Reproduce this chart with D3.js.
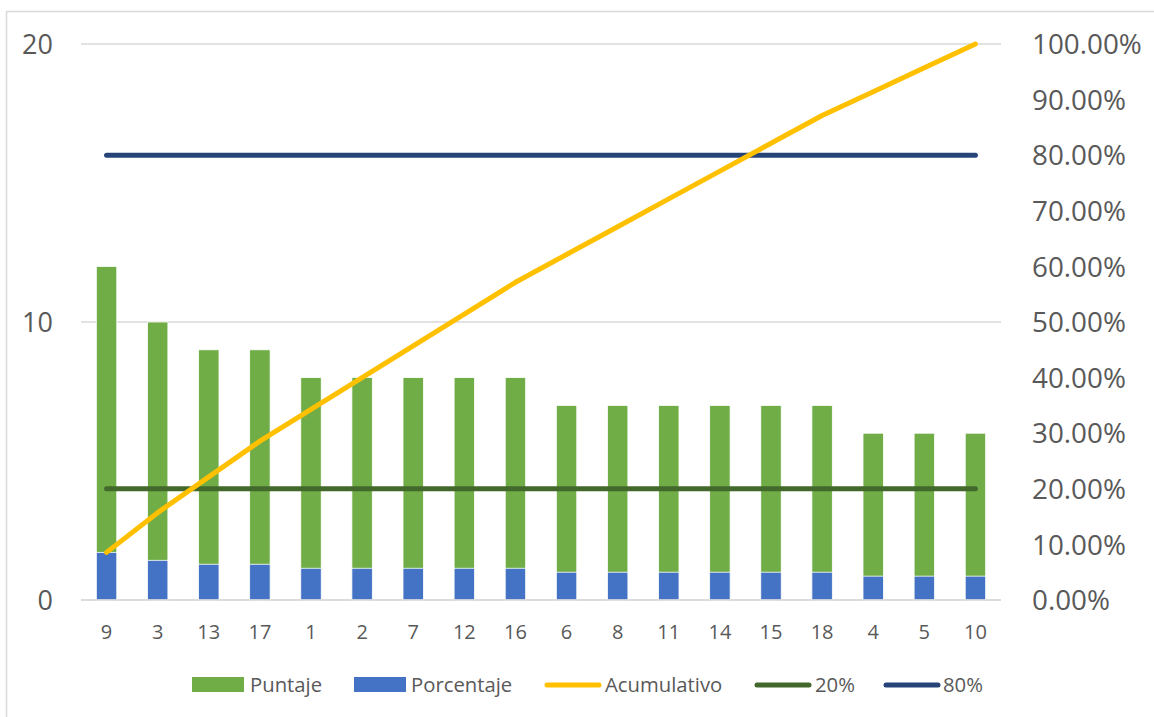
<!DOCTYPE html>
<html><head><meta charset="utf-8">
<script src="https://cdn.jsdelivr.net/npm/d3@7"></script>
<style>body{margin:0;background:#fff}svg{display:block}text{font-family:"Open Sans",sans-serif;fill:#595959}</style>
</head><body>
<svg id="c" width="1154" height="717"></svg>
<script>
const categories = ["9","3","13","17","1","2","7","12","16","6","8","11","14","15","18","4","5","10"];
const puntaje = [12,10,9,9,8,8,8,8,8,7,7,7,7,7,7,6,6,6];
const porcentaje = [0.0857,0.0714,0.0643,0.0643,0.0571,0.0571,0.0571,0.0571,0.0571,0.05,0.05,0.05,0.05,0.05,0.05,0.0429,0.0429,0.0429];
const acumulativo = [0.0857,0.1571,0.2214,0.2857,0.3429,0.4,0.4571,0.5143,0.5714,0.6214,0.6714,0.7214,0.7714,0.8214,0.8714,0.9143,0.9571,1.0];
const linea20 = categories.map(() => 0.2);
const linea80 = categories.map(() => 0.8);
const leftTicks = [0,10,20];
const rightTicks = [0,0.1,0.2,0.3,0.4,0.5,0.6,0.7,0.8,0.9,1.0];

const svg = d3.select("#c");
svg.append("rect").attr("x",6.5).attr("y",11.5).attr("width",1170).attr("height",730)
  .attr("fill","#fff").attr("stroke","#d9d9d9").attr("stroke-width",1.5);

const L=81, R=1001, T=44, B=600;
const x = d3.scaleBand().domain(categories).range([L,R]).paddingInner(0.6).paddingOuter(0.3);
const y = d3.scaleLinear().domain([0,20]).range([B,T]);
const y2 = d3.scaleLinear().domain([0,1]).range([B,T]);
const cx = c => x(c)+x.bandwidth()/2;

svg.append("g").selectAll("line").data(leftTicks).join("line")
  .attr("x1",L).attr("x2",R).attr("y1",d=>y(d)).attr("y2",d=>y(d))
  .attr("stroke","#d9d9d9").attr("stroke-width",1.5);

const ga = d3.axisLeft(y).tickValues(leftTicks).tickSize(0).tickPadding(0);
const gl = svg.append("g").attr("transform","translate(53,0)").call(ga);
gl.select(".domain").remove();
gl.selectAll("text").attr("font-size",27).attr("fill","#595959").attr("dy","0.35em").style("font-family","'Open Sans',sans-serif");

const ra = d3.axisRight(y2).tickValues(rightTicks).tickSize(0).tickPadding(0).tickFormat(d=>(d*100).toFixed(2)+"%");
const gr = svg.append("g").attr("transform","translate(1032,0)").call(ra);
gr.select(".domain").remove();
gr.selectAll("text").attr("font-size",27.8).attr("fill","#595959").attr("dy","0.35em").style("font-family","'Open Sans',sans-serif");

const bx = d3.axisBottom(x).tickSize(0).tickPadding(0);
const gb = svg.append("g").attr("transform",`translate(0,${B})`).call(bx);
gb.select(".domain").remove();
gb.selectAll("text").attr("font-size",20).attr("fill","#595959").attr("y",39).attr("dy",0).style("font-family","'Open Sans',sans-serif");

svg.append("g").selectAll("rect").data(puntaje).join("rect")
  .attr("x",(d,i)=>x(categories[i])).attr("width",x.bandwidth())
  .attr("y",d=>y(d)).attr("height",d=>B-y(d)).attr("fill","#70ad47")
  .attr("stroke","#fff").attr("stroke-width",0.8);
svg.append("g").selectAll("rect").data(porcentaje).join("rect")
  .attr("x",(d,i)=>x(categories[i])).attr("width",x.bandwidth())
  .attr("y",d=>y2(d)).attr("height",d=>B-y2(d)).attr("fill","#4472c4")
  .attr("stroke","#fff").attr("stroke-width",0.8);

svg.append("line").attr("x1",L).attr("x2",R).attr("y1",B).attr("y2",B).attr("stroke","#d9d9d9").attr("stroke-width",1.5);

const line = d3.line().x((d,i)=>cx(categories[i])).y(d=>y2(d));
svg.append("path").datum(linea20).attr("d",line).attr("fill","none").attr("stroke","#43682b").attr("stroke-width",5).attr("stroke-linecap","round");
svg.append("path").datum(linea80).attr("d",line).attr("fill","none").attr("stroke","#264478").attr("stroke-width",5).attr("stroke-linecap","round");
svg.append("path").datum(acumulativo).attr("d",line).attr("fill","none").attr("stroke","#ffc000").attr("stroke-width",5).attr("stroke-linecap","round").attr("stroke-linejoin","round");

const ly = 685;
const lg = svg.append("g");
const items = [
  {name:"Puntaje", type:"rect", color:"#70ad47", x0:192, x1:244, tx:250},
  {name:"Porcentaje", type:"rect", color:"#4472c4", x0:354, x1:406, tx:411},
  {name:"Acumulativo", type:"line", color:"#ffc000", x0:547, x1:599, tx:605},
  {name:"20%", type:"line", color:"#43682b", x0:757, x1:809, tx:815},
  {name:"80%", type:"line", color:"#264478", x0:886, x1:938, tx:943}
];
items.forEach(it=>{
  if(it.type==="rect") lg.append("rect").attr("x",it.x0).attr("y",ly-8).attr("width",it.x1-it.x0).attr("height",15).attr("fill",it.color);
  else lg.append("line").attr("x1",it.x0).attr("x2",it.x1).attr("y1",ly).attr("y2",ly).attr("stroke",it.color).attr("stroke-width",5).attr("stroke-linecap","round");
  lg.append("text").attr("x",it.tx).attr("y",ly).attr("dy","0.35em").attr("font-size",20.3).text(it.name);
});
</script>
</body></html>
